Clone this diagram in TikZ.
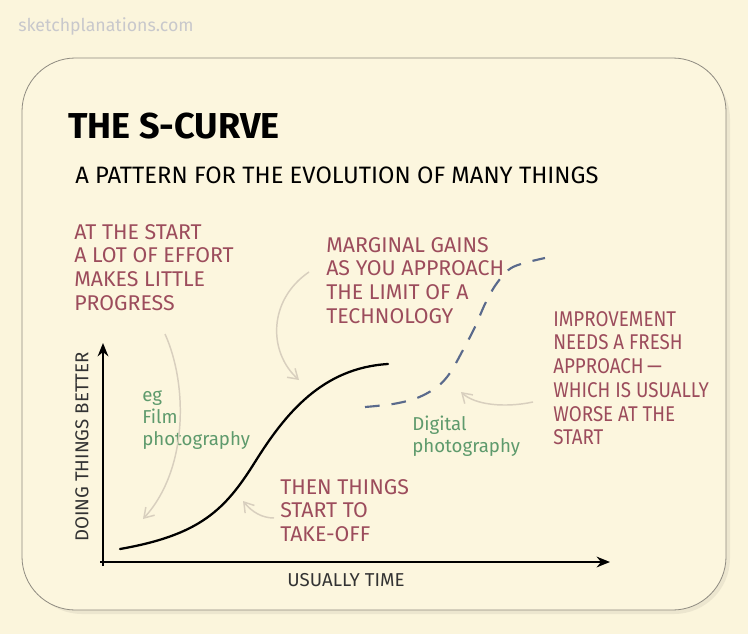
\documentclass[tikz,border=0pt]{standalone}
\usepackage{fontspec}
\setmainfont{Fira Sans}
\newfontfamily\narrowhand[FakeStretch=0.88]{Fira Sans}
\usetikzlibrary{arrows.meta}
\definecolor{bgc}{HTML}{FBF5DC}
\definecolor{cardc}{HTML}{FCF6DE}
\definecolor{edgec}{HTML}{8E8A80}
\definecolor{mauve}{HTML}{9C4C5C}
\definecolor{leaf}{HTML}{5E9A6C}
\definecolor{slate}{HTML}{5A6A8C}
\definecolor{pale}{HTML}{D8CFBE}
\definecolor{wm}{HTML}{C8C8CC}
\tikzset{
  note/.style={text=mauve, align=left, anchor=north west, inner sep=0pt,
    font=\fontsize{16}{17.8}\selectfont},
  eg/.style={text=leaf, align=left, anchor=north west, inner sep=0pt,
    font=\fontsize{14}{16.5}\selectfont},
  pointer/.style={draw=pale, line width=1.1pt, -{Straight Barb[length=7pt,width=9pt]}},
  axis/.style={draw=black, line width=2pt, -{Stealth[length=10pt,width=8pt]}},
  axlabel/.style={text=black!80, inner sep=0pt, font=\fontsize{14}{15}\selectfont},
}
\begin{document}
\begin{tikzpicture}[x=0.75pt,y=-0.75pt]
\useasboundingbox (0,0) rectangle (748,634);
\fill[bgc] (0,0) rectangle (748,634);
% card shadow and card
\fill[black!6!bgc, rounded corners=42pt] (26,63) rectangle (730,614);
\draw[edgec, line width=0.6pt, fill=cardc, rounded corners=40pt] (22,58) rectangle (726,610);
% watermark
\node[anchor=base west, inner sep=0pt, text=wm, font=\fontsize{13.3}{14}\selectfont] (wmark) at (18,32) {sketchplanations.com};
% titles
\node[anchor=base west, inner sep=0pt, font=\fontsize{27}{27}\selectfont\bfseries] (title) at (68,139) {THE S-CURVE};
\node[anchor=base west, inner sep=0pt, font=\fontsize{17.8}{18}\selectfont] (subtitle) at (75,184) {A PATTERN FOR THE EVOLUTION OF MANY THINGS};
% axes
\coordinate (origin) at (103,562);
\coordinate (ytop) at (103,343);
\coordinate (xend) at (610,562);
\draw[axis] (103,566) -- (ytop);
\draw[axis] (100,562) -- (xend);
\node[axlabel, rotate=90] (ylab) at (82,447) {DOING THINGS BETTER};
\node[axlabel] (xlab) at (346,580) {USUALLY TIME};
% curves
\draw[black, line width=1.7pt, line cap=round] (120,549) .. controls (200,535) and (225,510) .. (255,462)
  .. controls (285,414) and (322,368) .. (388,364);
\draw[slate, line width=1.6pt, dash pattern=on 11pt off 9pt] plot[smooth, tension=0.55] coordinates
  {(365,407) (393,404) (417,398) (437,387) (450,373) (463,350) (475,327) (485,304) (497,283) (513,267) (545,258)};
% notes
\node[note] (n1) at (74,224) {AT THE START\\A LOT OF EFFORT\\MAKES LITTLE\\PROGRESS};
\node[note] (n2) at (326,237) {MARGINAL GAINS\\AS YOU APPROACH\\THE LIMIT OF A\\TECHNOLOGY};
\node[note, font=\narrowhand\fontsize{16}{17.8}\selectfont] (n3) at (553,311) {IMPROVEMENT\\NEEDS A FRESH\\APPROACH\,—\\WHICH IS USUALLY\\WORSE AT THE\\START};
\node[note] (n4) at (280,479) {THEN THINGS\\START TO\\TAKE-OFF};
\node[eg] (e1) at (142,390) {eg\\Film\\photography};
\node[eg] (e2) at (412,416) {Digital\\photography};
% pointers
\coordinate (p1s) at (165,334); \coordinate (p1e) at (143,519);
\coordinate (p2s) at (309,272); \coordinate (p2e) at (299,380);
\coordinate (p3s) at (533,402); \coordinate (p3e) at (461,392);
\coordinate (p4s) at (274,518); \coordinate (p4e) at (243,501);
\draw[pointer] (p1s) .. controls (188,385) and (188,470) .. (p1e);
\draw[pointer] (p2s) .. controls (268,300) and (268,352) .. (p2e);
\draw[pointer] (p3s) .. controls (505,408) and (475,405) .. (p3e);
\draw[pointer] (p4s) .. controls (262,518) and (252,512) .. (p4e);
\end{tikzpicture}
\end{document}
